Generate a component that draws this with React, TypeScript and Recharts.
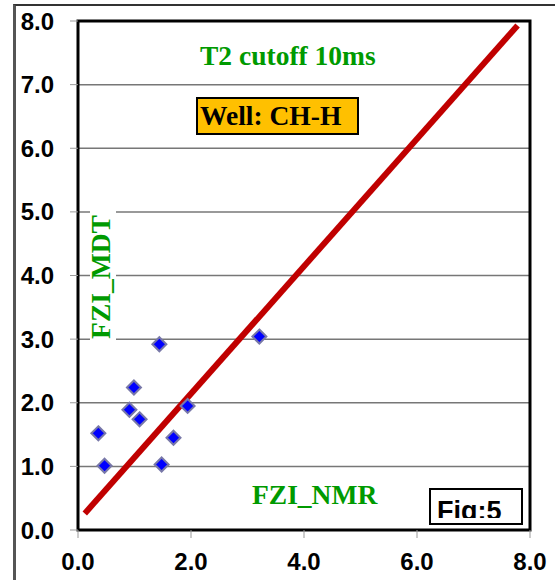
import {
  CartesianGrid,
  ReferenceArea,
  ReferenceLine,
  Scatter,
  ScatterChart,
  XAxis,
  YAxis,
} from "recharts";

// FZI from NMR (x) vs FZI from MDT (y)
const FZI_NMR = [0.36, 0.47, 0.91, 0.99, 1.09, 1.44, 1.48, 1.69, 1.94, 3.21];
const FZI_MDT = [1.52, 1.01, 1.89, 2.24, 1.74, 2.92, 1.03, 1.45, 1.95, 3.04];

// fitted line end points
const FIT_X = [0.12, 7.78];
const FIT_Y = [0.26, 7.93];

const X_TICKS = [0, 2, 4, 6, 8];
const Y_TICKS = [0, 1, 2, 3, 4, 5, 6, 7, 8];

const GREEN = "#009a00";
const SERIF = "'Liberation Serif', 'Times New Roman', serif";
const SANS = "'Liberation Sans', Arial, sans-serif";

const points = FZI_NMR.map((x, i) => ({ x, y: FZI_MDT[i] }));

function Diamond(props: any) {
  const { cx, cy } = props;
  if (cx == null || cy == null) return null;
  const r = 7;
  return (
    <polygon
      points={`${cx},${cy - r} ${cx + r},${cy} ${cx},${cy + r} ${cx - r},${cy}`}
      fill="#0000ff"
      stroke="#7878a8"
      strokeWidth={2}
    />
  );
}

const tickStyle = { fill: "#000", fontSize: 24, fontFamily: SANS, fontWeight: "bold" as const };

export default function App() {
  return (
    <div style={{ position: "absolute", left: 0, top: 0, width: 555, height: 580, background: "#fff" }}>
      {/* outer frame */}
      <div
        style={{
          position: "absolute",
          left: 13,
          top: 4,
          width: 542,
          height: 576,
          borderLeft: "3px solid #555",
          borderTop: "2px solid #333",
        }}
      />
      <ScatterChart
        width={555}
        height={580}
        margin={{ top: 21, right: 25, bottom: 20, left: 18 }}
        style={{ position: "absolute", left: 0, top: 0 }}
      >
        <CartesianGrid vertical={false} stroke="#777" strokeWidth={1.5} />
        <XAxis
          type="number"
          dataKey="x"
          domain={[0, 8]}
          ticks={X_TICKS}
          tickFormatter={(v) => Number(v).toFixed(1)}
          height={30}
          axisLine={false}
          tickLine={{ stroke: "#999" }}
          tickSize={8}
          tickMargin={15}
          tick={tickStyle}
          interval={0}
        />
        <YAxis
          type="number"
          dataKey="y"
          domain={[0, 8]}
          ticks={Y_TICKS}
          tickFormatter={(v) => Number(v).toFixed(1)}
          width={60}
          axisLine={false}
          tickLine={{ stroke: "#999" }}
          tickSize={8}
          tickMargin={16}
          tick={tickStyle}
          interval={0}
        />
        <ReferenceArea x1={0} x2={8} y1={0} y2={8} fill="none" stroke="#000" strokeWidth={3} />
        <ReferenceLine
          segment={[
            { x: FIT_X[0], y: FIT_Y[0] },
            { x: FIT_X[1], y: FIT_Y[1] },
          ]}
          stroke="#c00000"
          strokeWidth={6}
        />
        <Scatter data={points} shape={Diamond} isAnimationActive={false} />
      </ScatterChart>
      {/* annotations */}
      <svg
        width={555}
        height={580}
        style={{ position: "absolute", left: 0, top: 0, pointerEvents: "none" }}
      >
        <defs>
          <clipPath id="figClip">
            <rect x={430} y={489} width={92} height={29} />
          </clipPath>
        </defs>
        <text x={200} y={65} fill={GREEN} fontFamily={SERIF} fontWeight="bold" fontSize={27.5}>
          T2 cutoff 10ms
        </text>
        <rect x={197} y={98} width={161} height={36} fill="#ffc000" stroke="#000" strokeWidth={2} />
        <text x={200} y={125} fill="#000" fontFamily={SERIF} fontWeight="bold" fontSize={27.5}>
          Well: CH-H
        </text>
        <rect x={90} y={208} width={26} height={133} fill="#fff" />
        <text
          transform="translate(110 277) rotate(-90)"
          textAnchor="middle"
          fill={GREEN}
          fontFamily={SERIF}
          fontWeight="bold"
          fontSize={27.5}
        >
          FZI_MDT
        </text>
        <text x={252} y={504} fill={GREEN} fontFamily={SERIF} fontWeight="bold" fontSize={27.5}>
          FZI_NMR
        </text>
        <rect x={430} y={489} width={92} height={35} fill="#fff" stroke="#000" strokeWidth={2} />
        <text
          x={437}
          y={520}
          fill="#000"
          fontFamily={SANS}
          fontWeight="bold"
          fontSize={27}
          clipPath="url(#figClip)"
        >
          Fig:5
        </text>
      </svg>
    </div>
  );
}
